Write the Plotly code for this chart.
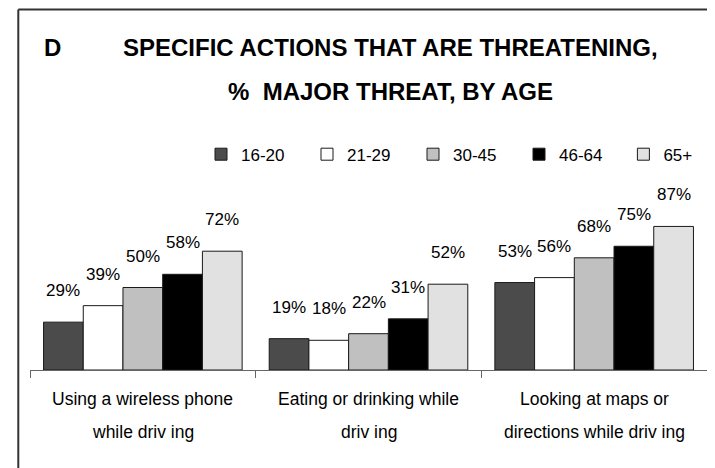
import plotly.graph_objects as go

categories = ["wireless", "eating", "maps"]
cat_line1 = ["Using a wireless phone", "Eating or drinking while", "Looking at maps or"]
cat_line2 = ["while driv ing", "driv ing", "directions while driv ing"]
age_groups = ["16-20", "21-29", "30-45", "46-64", "65+"]
values = {
    "16-20": [29, 19, 53],
    "21-29": [39, 18, 56],
    "30-45": [50, 22, 68],
    "46-64": [58, 31, 75],
    "65+":   [72, 52, 87],
}
colors = ["#4b4b4b", "#ffffff", "#c0c0c0", "#000000", "#e1e1e1"]
title_lines = ["SPECIFIC ACTIONS THAT ARE THREATENING,", "% \u00a0MAJOR THREAT, BY AGE"]
panel_letter = "D"

FONT = "Liberation Sans, Arial, sans-serif"
OFF = 8                      # page body margin of the html page
W, H = 715 - OFF, 468 - OFF  # figure size so that it fits the window
BARGAP = 0.12

ml, mr = 30 - OFF, 8
axis_y = 370 - OFF
mb = H - axis_y
plot_h = 165.5
mt = axis_y - plot_h
plot_w = W - ml - mr


def px_x(page_x):
    return (page_x - OFF - ml) / plot_w


def px_y(page_y):
    return (axis_y - (page_y - OFF)) / plot_h


fig = go.Figure()
for k, (g, col) in enumerate(zip(age_groups, colors)):
    fig.add_trace(go.Bar(
        name=g, x=categories, y=values[g],
        marker=dict(color=col, line=dict(color="#1a1a1a", width=1)),
        legend="legend" if k < 4 else "legend2",
    ))

annotations = []
n = len(age_groups)
bw = (1 - BARGAP) / n
for i, g in enumerate(age_groups):
    for j, v in enumerate(values[g]):
        annotations.append(dict(
            x=j + (i - (n - 1) / 2) * bw, y=v, xref="x", yref="y",
            text=f"{v}%", showarrow=False, yanchor="bottom", yshift=20,
            font=dict(family=FONT, size=17, color="#000"),
        ))
for j, c in enumerate(categories):
    annotations.append(dict(x=j, y=0, xref="x", yref="y", text=cat_line1[j],
                            showarrow=False, yanchor="top", yshift=-17,
                            font=dict(family=FONT, size=17.5, color="#000")))
    annotations.append(dict(x=j, y=0, xref="x", yref="y", text=cat_line2[j],
                            showarrow=False, yanchor="top", yshift=-50,
                            font=dict(family=FONT, size=17.5, color="#000")))

TFS = 24
asc = 0.905 * TFS + 1
for k, (line, base) in enumerate(zip(title_lines, [54, 98])):
    annotations.append(dict(x=px_x(390), y=px_y(base - asc), xref="paper", yref="paper",
                            text=f"<b>{line}</b>", showarrow=False,
                            xanchor="center", yanchor="top",
                            font=dict(family=FONT, size=TFS, color="#000")))
annotations.append(dict(x=px_x(42), y=px_y(54 - asc), xref="paper", yref="paper",
                        text=f"<b>{panel_letter}</b>", showarrow=False,
                        xanchor="left", yanchor="top",
                        font=dict(family=FONT, size=TFS, color="#000")))

ENTRY = 61
SPACING = 105.6
legend_common = dict(orientation="h", xanchor="left", yanchor="middle", y=px_y(154),
                     font=dict(family=FONT, size=17, color="#000"),
                     entrywidth=ENTRY, entrywidthmode="pixels", itemwidth=30,
                     traceorder="normal", bgcolor="rgba(0,0,0,0)", borderwidth=0)
LEG_X0 = 201

fig.update_layout(
    width=W, height=H,
    margin=dict(l=ml, r=mr, t=mt, b=mb, pad=0, autoexpand=False),
    paper_bgcolor="white", plot_bgcolor="white",
    barmode="group", bargap=BARGAP, bargroupgap=0,
    showlegend=True,
    legend=dict(x=px_x(LEG_X0), **legend_common),
    legend2=dict(x=px_x(LEG_X0 + 4 * SPACING), **legend_common),
    xaxis=dict(showline=True, linecolor="#666", linewidth=1, ticks="outside", ticklen=7,
               tickcolor="#666", tickson="boundaries", showticklabels=False, showgrid=False,
               zeroline=False, fixedrange=True),
    yaxis=dict(range=[0, 100], visible=False, showgrid=False, zeroline=False, fixedrange=True),
    annotations=annotations,
    shapes=[
        dict(type="line", xref="paper", yref="paper", x0=px_x(18.3), x1=px_x(715 + 5),
             y0=px_y(8.5), y1=px_y(8.5), line=dict(color="#333", width=2)),
        dict(type="line", xref="paper", yref="paper", x0=px_x(18.3), x1=px_x(18.3),
             y0=px_y(8.5), y1=px_y(468 + 5), line=dict(color="#333", width=2)),
    ],
)
fig.write_html("out.html")
